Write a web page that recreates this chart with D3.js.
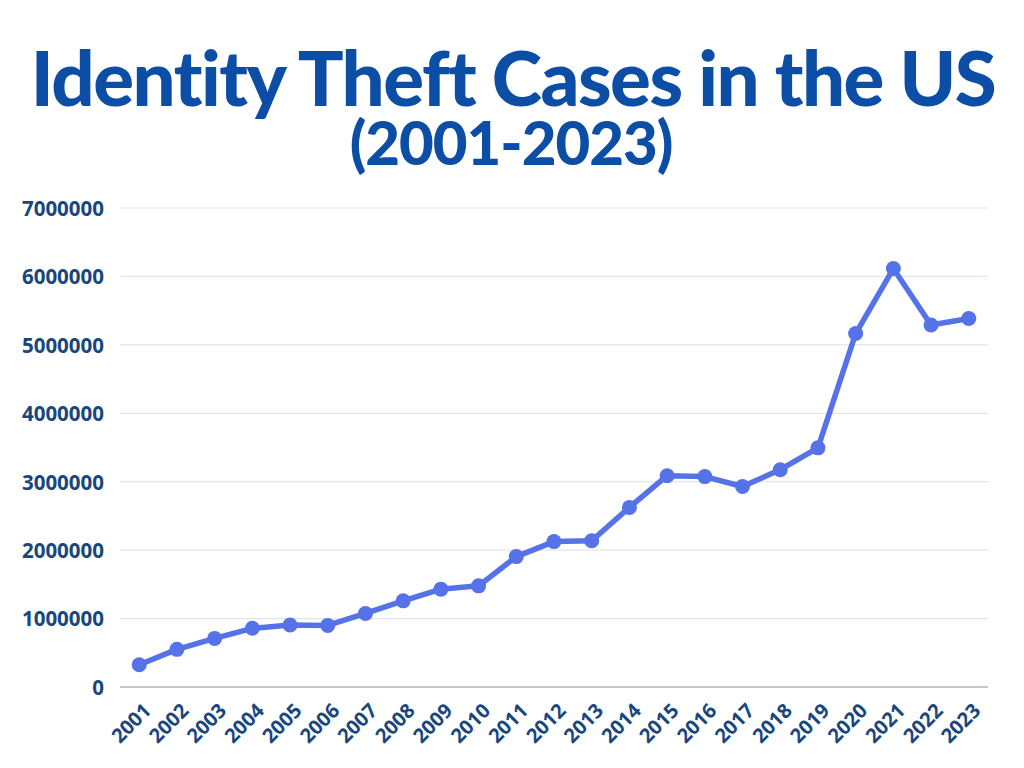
<!DOCTYPE html>
<html>
<head>
<meta charset="utf-8">
<script src="https://cdn.jsdelivr.net/npm/d3@7"></script>
<style>
  html, body { margin: 0; padding: 0; background: #fff; }
  svg { display: block; }
</style>
</head>
<body>
<div id="chart"></div>
<script>
// chart data
const years = ["2001","2002","2003","2004","2005","2006","2007","2008","2009","2010","2011","2012",
               "2013","2014","2015","2016","2017","2018","2019","2020","2021","2022","2023"];
const cases = [325000, 550000, 710000, 858000, 906000, 900000, 1075000, 1259000, 1430000, 1478000,
               1906000, 2125000, 2137000, 2625000, 3088000, 3075000, 2930000, 3175000, 3495000,
               5165000, 6115000, 5290000, 5385000];
const yTicks = [0, 1000000, 2000000, 3000000, 4000000, 5000000, 6000000, 7000000];

const width = 1024, height = 768;
const titleColor = "#0c4ea6", labelColor = "#18467f", lineColor = "#5572e8";

const svg = d3.select("#chart")
  .append("svg")
  .attr("width", width)
  .attr("height", height);

// fit a text to a given width by scaling its font size
function fitText(sel, target){
  const len = sel.node().getComputedTextLength();
  const fs = parseFloat(sel.attr("font-size"));
  sel.attr("font-size", fs * target / len);
}

const title = svg.append("text")
  .attr("x", 513)
  .attr("y", 106)
  .attr("text-anchor", "middle")
  .attr("font-family", "Lato, sans-serif")
  .attr("font-weight", 900)
  .attr("font-size", 72)
  .attr("fill", titleColor)
  .attr("letter-spacing", -1.5)
  .text("Identity Theft Cases in the US");
fitText(title, 962);

const sub = svg.append("text")
  .attr("x", 511)
  .attr("y", 165)
  .attr("text-anchor", "middle")
  .attr("font-family", "Lato, sans-serif")
  .attr("font-weight", 900)
  .attr("font-size", 56)
  .attr("fill", titleColor)
  .attr("letter-spacing", -1)
  .text("(2001-2023)");
fitText(sub, 322);

// scales
const x = d3.scalePoint()
  .domain(years)
  .range([120, 988])
  .padding(0.51);

const y = d3.scaleLinear()
  .domain([0, 7000000])
  .range([687, 208]);

// grid lines
svg.append("g")
  .selectAll("line")
  .data(yTicks.filter(d => d > 0))
  .join("line")
  .attr("x1", 120)
  .attr("x2", 988)
  .attr("y1", d => y(d))
  .attr("y2", d => y(d))
  .attr("stroke", "#e2e5e9")
  .attr("stroke-width", 1.2);

// base line
svg.append("line")
  .attr("x1", 120)
  .attr("x2", 988)
  .attr("y1", y(0))
  .attr("y2", y(0))
  .attr("stroke", "#a9b8c8")
  .attr("stroke-width", 1.5);

// y axis labels
const yAxis = svg.append("g")
  .attr("transform", "translate(104,0)")
  .call(d3.axisLeft(y).tickValues(yTicks).tickFormat(d3.format("d")).tickSize(0).tickPadding(0));
yAxis.select(".domain").remove();
yAxis.selectAll("text")
  .attr("font-family", "'Open Sans', sans-serif")
  .attr("font-weight", 700)
  .attr("font-size", 20.5)
  .attr("fill", labelColor)
  .attr("dy", "0.36em");

// x axis labels, rotated
svg.append("g")
  .selectAll("text")
  .data(years)
  .join("text")
  .attr("transform", d => `translate(${x(d) + 13},712) rotate(-45)`)
  .attr("text-anchor", "end")
  .attr("font-family", "'Open Sans', sans-serif")
  .attr("font-weight", 700)
  .attr("font-size", 20)
  .attr("fill", labelColor)
  .text(d => d);

// line
const line = d3.line()
  .x((d, i) => x(years[i]))
  .y(d => y(d));

svg.append("path")
  .datum(cases)
  .attr("d", line)
  .attr("fill", "none")
  .attr("stroke", lineColor)
  .attr("stroke-width", 5.5)
  .attr("stroke-linejoin", "round");

// dots
svg.append("g")
  .selectAll("circle")
  .data(cases)
  .join("circle")
  .attr("cx", (d, i) => x(years[i]))
  .attr("cy", d => y(d))
  .attr("r", 7.5)
  .attr("fill", lineColor);
</script>
</body>
</html>
